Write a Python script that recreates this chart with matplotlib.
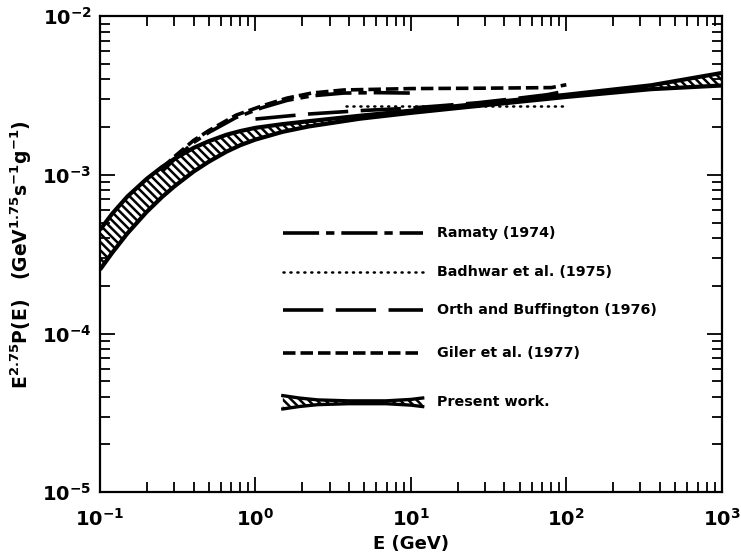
import matplotlib
matplotlib.use('Agg')
import matplotlib.pyplot as plt
import numpy as np

plt.rcParams['font.family'] = ['DejaVu Sans']
plt.rcParams['font.weight'] = 'bold'
plt.rcParams['mathtext.fontset'] = 'dejavusans'
plt.rcParams['mathtext.default'] = 'bf'
plt.rcParams['lines.scale_dashes'] = False
plt.rcParams['hatch.linewidth'] = 1.8

# present work band (upper / lower edge)
E_band = [0.1, 0.12, 0.15, 0.2, 0.25, 0.3, 0.4, 0.5, 0.65, 0.8, 1.0, 1.5, 2.2,
          4.7, 10, 20, 100, 350, 1000]
band_hi = [4.51e-4, 5.71e-4, 7.31e-4, 9.46e-4, 1.12e-3, 1.26e-3, 1.48e-3, 1.63e-3,
           1.79e-3, 1.89e-3, 1.98e-3, 2.09e-3, 2.18e-3, 2.36e-3, 2.54e-3, 2.72e-3,
           3.20e-3, 3.67e-3, 4.39e-3]
band_lo = [2.53e-4, 3.24e-4, 4.28e-4, 5.86e-4, 7.24e-4, 8.45e-4, 1.05e-3, 1.21e-3,
           1.40e-3, 1.54e-3, 1.67e-3, 1.87e-3, 2.02e-3, 2.26e-3, 2.46e-3, 2.64e-3,
           3.10e-3, 3.47e-3, 3.66e-3]

# Ramaty (1974)
E_ram = [0.25, 0.3, 0.4, 0.5, 0.75, 1.1, 1.6, 2.3, 3.7, 6, 10]
f_ram = [1.05e-3, 1.25e-3, 1.6e-3, 1.85e-3, 2.3e-3, 2.65e-3, 2.95e-3, 3.15e-3,
         3.28e-3, 3.3e-3, 3.28e-3]

# Badhwar et al. (1975)
E_bad = [3.8, 100]
f_bad = [2.72e-3, 2.72e-3]

# Orth and Buffington (1976)
E_orth = [1.0, 2.2, 5, 9, 15, 27, 50, 75, 100]
f_orth = [2.25e-3, 2.42e-3, 2.55e-3, 2.62e-3, 2.72e-3, 2.85e-3, 3.05e-3, 3.2e-3, 3.38e-3]

# Giler et al. (1977)
E_gil = [0.25, 0.3, 0.4, 0.5, 0.75, 1.1, 1.6, 2.3, 3.7, 10, 30, 80, 100]
f_gil = [1.1e-3, 1.3e-3, 1.65e-3, 1.9e-3, 2.38e-3, 2.72e-3, 3.05e-3, 3.28e-3,
         3.43e-3, 3.5e-3, 3.52e-3, 3.55e-3, 3.7e-3]

etiquetas = ['Ramaty (1974)', 'Badhwar et al. (1975)', 'Orth and Buffington (1976)',
             'Giler et al. (1977)', 'Present work.']

st_ram = (0, (26, 5, 6, 5))
st_bad = (0, (0.8, 4.2))
st_orth = (0, (29, 9))
st_gil = (0, (9, 3.6))

fig = plt.figure(figsize=(7.41, 5.60), dpi=100)
ax = fig.add_axes([0.135, 0.121, 0.839, 0.850])

ax.fill_between(E_band, band_lo, band_hi, facecolor='white', edgecolor='black',
                hatch='\\\\\\\\', linewidth=0)
ax.plot(E_band, band_hi, color='black', lw=3, solid_capstyle='butt')
ax.plot(E_band, band_lo, color='black', lw=3, solid_capstyle='butt')

ax.plot(E_ram, f_ram, color='black', lw=2.6, linestyle=st_ram)
ax.plot(E_bad, f_bad, color='black', lw=1.8, linestyle=st_bad, dash_capstyle='round')
ax.plot(E_orth, f_orth, color='black', lw=2.6, linestyle=st_orth)
ax.plot(E_gil, f_gil, color='black', lw=2.6, linestyle=st_gil)

ax.set_xscale('log')
ax.set_yscale('log')
ax.set_xlim(0.1, 1000)
ax.set_ylim(1e-5, 1e-2)

for s in ax.spines.values():
    s.set_linewidth(1.6)
ax.tick_params(which='both', direction='in', top=True, right=True, width=1.3)
ax.tick_params(which='major', length=11)
ax.tick_params(which='minor', length=7.5)
ax.tick_params(axis='x', which='major', pad=11, labelsize=14)
ax.tick_params(axis='y', which='major', pad=6, labelsize=14)

ax.set_xlabel('E (GeV)', fontsize=13, fontweight='bold', labelpad=4)
ax.set_ylabel(r'E$^{2.75}$P(E)   (GeV$^{1.75}$s$^{-1}$g$^{-1}$)', fontsize=13.5,
              fontweight='bold', labelpad=6)

# leyenda dibujada a mano
x0, x1, xt = 0.294, 0.519, 0.542
filas = [0.544, 0.462, 0.382, 0.292, 0.189]
estilos = [(st_ram, 2.6), (st_bad, 1.8), (st_orth, 2.6), (st_gil, 2.6)]
for yy, (st, lw) in zip(filas[:4], estilos):
    ax.plot([x0, x1], [yy, yy], transform=ax.transAxes, color='black', lw=lw,
            linestyle=st, dash_capstyle='round' if lw < 2 else 'butt')
yy = filas[4]
xs = [0.294, 0.32, 0.35, 0.40, 0.46, 0.50, 0.519]
hw = [0.014, 0.009, 0.005, 0.003, 0.003, 0.006, 0.009]
up = [yy + h for h in hw]
dn = [yy - h for h in hw]
ax.fill_between(xs, dn, up, transform=ax.transAxes, facecolor='white',
                edgecolor='black', hatch='\\\\\\\\', linewidth=0)
ax.plot(xs, up, transform=ax.transAxes, color='black', lw=2.4)
ax.plot(xs, dn, transform=ax.transAxes, color='black', lw=2.4)
for yy, txt in zip(filas, etiquetas):
    ax.text(xt, yy, txt, transform=ax.transAxes, fontsize=10.3, fontweight='bold',
            va='center', ha='left')

fig.savefig('out.png', dpi=100)
